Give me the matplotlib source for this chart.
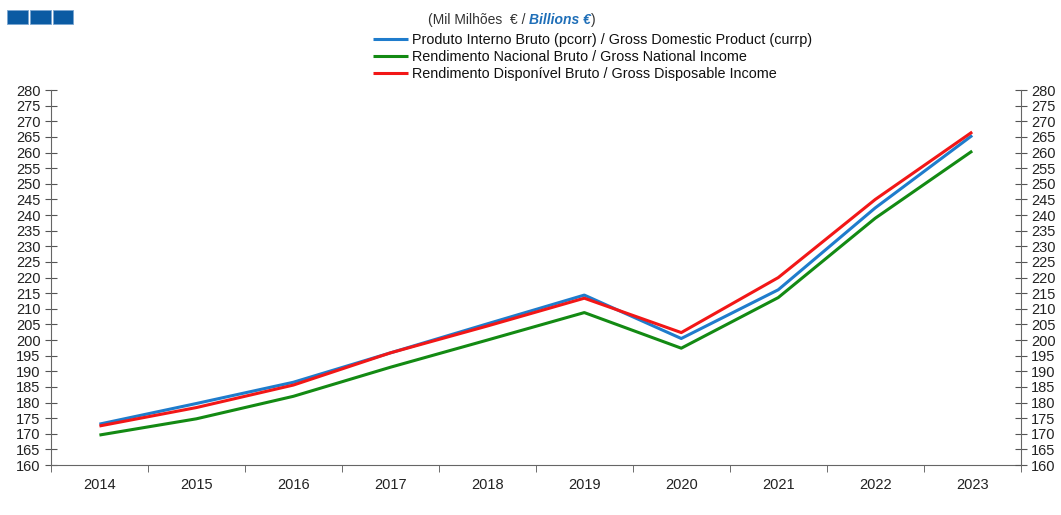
import numpy as np
import matplotlib
matplotlib.use("Agg")
import matplotlib.pyplot as plt
from matplotlib.patches import Rectangle

plt.rcParams['font.family'] = ['Liberation Sans', 'DejaVu Sans']

years = ['2014', '2015', '2016', '2017', '2018', '2019', '2020', '2021', '2022', '2023']
gdp = [173.1, 179.7, 186.5, 195.9, 205.2, 214.4, 200.5, 216.1, 242.3, 265.5]
gni = [169.6, 174.8, 182.0, 191.3, 200.0, 208.8, 197.4, 213.6, 239.0, 260.5]
gdi = [172.5, 178.4, 185.6, 195.9, 204.5, 213.4, 202.4, 220.0, 245.0, 266.6]
labels = ['Produto Interno Bruto (pcorr) / Gross Domestic Product (currp)',
          'Rendimento Nacional Bruto / Gross National Income',
          'Rendimento Disponível Bruto / Gross Disposable Income']
colours = ['#1f7ccc', '#138a13', '#f21717']
yticks = list(range(160, 281, 5))

fig = plt.figure(figsize=(10.61, 5.15), dpi=100)
ax = fig.add_axes([0.048, 0.097, 0.914, 0.728])
x = np.arange(len(years))
lines = []
for vals, lab, c in zip([gdp, gni, gdi], labels, colours):
    ln, = ax.plot(x, vals, color=c, lw=2.2, label=lab, solid_capstyle='butt')
    lines.append(ln)

ax.set_xlim(-0.5, len(years) - 0.5)
ax.set_ylim(160, 280)
ax.set_yticks(yticks)
ax.set_xticks(x)
ax.set_xticklabels(years, fontsize=10.5, color='#222222')
ax.set_xticks(np.arange(len(years) + 1) - 0.5, minor=True)
ax.tick_params(axis='x', which='major', length=0, pad=9)
ax.tick_params(axis='x', which='minor', length=5, direction='out', color='#555555')
ax.tick_params(axis='y', direction='inout', length=9, color='#555555', labelsize=10.5,
               labelcolor='#222222', pad=3)
for s in ['top', 'right']:
    ax.spines[s].set_visible(False)
for s in ['left', 'bottom']:
    ax.spines[s].set_color('#666666')

ax2 = ax.twinx()
ax2.set_ylim(160, 280)
ax2.set_yticks(yticks)
ax2.tick_params(axis='y', direction='inout', length=9, color='#555555', labelsize=10.5,
                labelcolor='#222222', pad=3)
for s in ['top', 'left', 'bottom']:
    ax2.spines[s].set_visible(False)
ax2.spines['right'].set_color('#666666')

# legend
fig.legend(lines, labels, loc='upper left', bbox_to_anchor=(0.352, 0.936), frameon=False,
           fontsize=10.4, handlelength=2.4, handletextpad=0.3, labelspacing=0.22,
           borderpad=0, borderaxespad=0, labelcolor='#111111')

# title made of pieces
fig.canvas.draw()
r = fig.canvas.get_renderer()
tx, ty = 0.403, 0.961
t1 = fig.text(tx, ty, '(Mil Milhões  € / ', fontsize=10, color='#333333', va='center')
bb = t1.get_window_extent(r)
t2 = fig.text(bb.x1 / fig.bbox.width, ty, 'Billions €', fontsize=10, color='#1f6fb8',
              weight='bold', style='italic', va='center')
bb = t2.get_window_extent(r)
fig.text(bb.x1 / fig.bbox.width, ty, ')', fontsize=10, color='#333333', va='center')

# logo squares
for i in range(3):
    fig.patches.append(Rectangle((0.0066 + i * 0.0215, 0.953), 0.0195, 0.028,
                                 transform=fig.transFigure, facecolor='#0b5ba3',
                                 edgecolor='#7aa6d1', lw=0.6))

fig.savefig('out.png', dpi=100)
